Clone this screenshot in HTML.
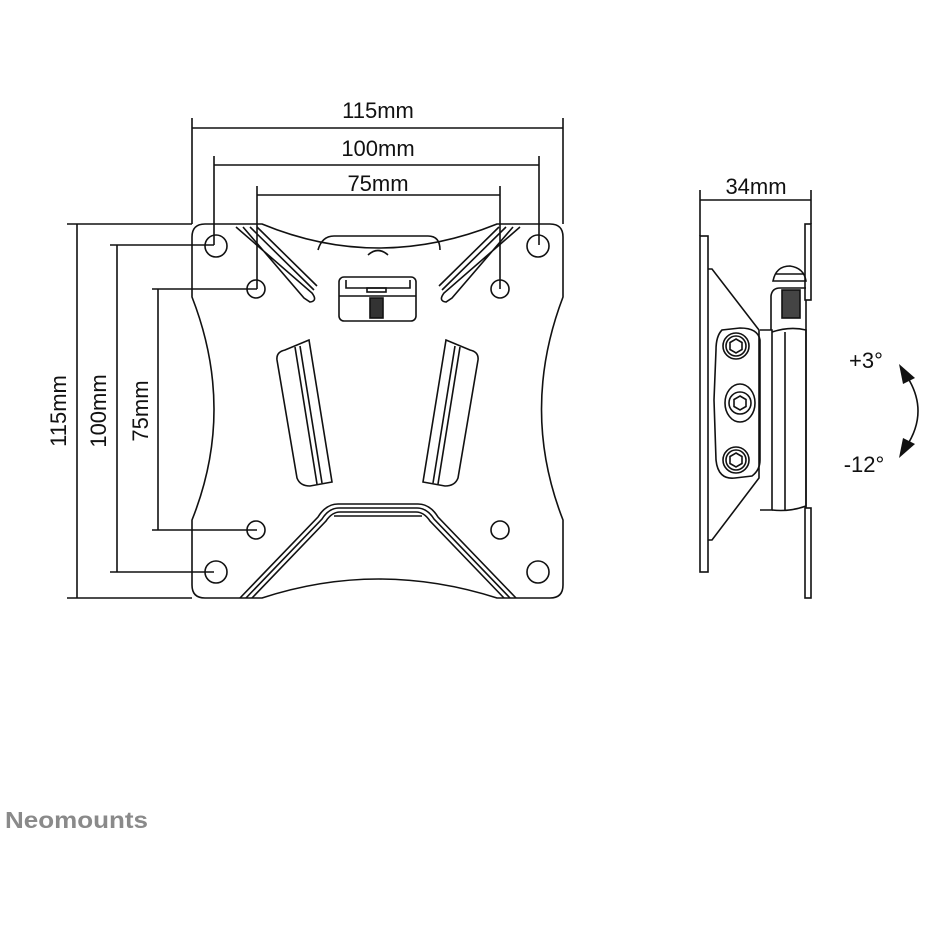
<!DOCTYPE html>
<html><head><meta charset="utf-8"><style>
html,body{margin:0;padding:0;background:#fff;}
svg{display:block}
text{font-family:"Liberation Sans",sans-serif;fill:#111}
</style></head><body>
<svg width="928" height="928" viewBox="0 0 928 928" xmlns="http://www.w3.org/2000/svg">
<g fill="none" stroke="#111" stroke-width="1.6">
<line x1="192" y1="118" x2="192" y2="224"/><line x1="563" y1="118" x2="563" y2="224"/>
<line x1="192" y1="128" x2="563" y2="128"/>
<line x1="214" y1="156" x2="214" y2="245"/><line x1="539" y1="156" x2="539" y2="245"/>
<line x1="214" y1="165" x2="539" y2="165"/>
<line x1="257" y1="186" x2="257" y2="289"/><line x1="500" y1="186" x2="500" y2="289"/>
<line x1="257" y1="195" x2="500" y2="195"/>
<line x1="67" y1="224" x2="192" y2="224"/><line x1="67" y1="598" x2="192" y2="598"/>
<line x1="77" y1="224" x2="77" y2="598"/>
<line x1="110" y1="245" x2="214" y2="245"/><line x1="110" y1="572" x2="214" y2="572"/>
<line x1="117" y1="245" x2="117" y2="572"/>
<line x1="152" y1="289" x2="257" y2="289"/><line x1="152" y1="530" x2="257" y2="530"/>
<line x1="158" y1="289" x2="158" y2="530"/>
<path d="M205 224 L262 224 Q378 272 497 224 L550 224 Q563 224 563 237 L563 297 Q520 410 563 520 L563 585 Q563 598 550 598 L497 598 Q378 560 262 598 L205 598 Q192 598 192 585 L192 520 Q236 410 192 297 L192 237 Q192 224 205 224 Z"/>
<path d="M318 250 Q322 236 334 236 L428 236 Q440 236 440 250"/>
<path d="M368 255 Q378 246 388 255"/>
<circle cx="216" cy="246" r="11"/><circle cx="538" cy="246" r="11"/>
<circle cx="216" cy="572" r="11"/><circle cx="538" cy="572" r="11"/>
<circle cx="256" cy="289" r="9"/><circle cx="500" cy="289" r="9"/>
<circle cx="256" cy="530" r="9"/><circle cx="500" cy="530" r="9"/>
<path d="M236 227 L312 293 Q318 301 310 302 L304 298 L243 227"/>
<path d="M250 227 L314 290"/><path d="M257 227 L317 286"/>
<path d="M520 227 L444 293 Q438 301 446 302 L452 298 L513 227"/>
<path d="M506 227 L442 290"/><path d="M499 227 L439 286"/>
<rect x="339" y="277" width="77" height="44" rx="5"/>
<line x1="339" y1="296" x2="416" y2="296"/>
<path d="M346 280 L346 288 L410 288 L410 280"/>
<rect x="367" y="288" width="19" height="4"/>
<rect x="370" y="298" width="13" height="20" fill="#333"/>
<path d="M285 350 Q276 352 277 360 L297 478 Q300 486 310 486 L332 482 L309 340 Z"/>
<path d="M295 347 L317 484"/><path d="M300 346 L322 483"/>
<path d="M470 350 Q479 352 478 360 L458 478 Q455 486 445 486 L423 482 L446 340 Z"/>
<path d="M460 347 L438 484"/><path d="M455 346 L433 483"/>
<path d="M240 598 L318 517 Q326 504 338 504 L418 504 Q430 504 438 517 L516 598"/>
<path d="M252 598 L326 521 Q332 512 340 512 L416 512 Q424 512 430 521 L504 598"/>
<path d="M246 598 L322 519 Q329 508 339 508 L417 508 Q427 508 434 519 L510 598"/>
<line x1="334" y1="516" x2="422" y2="516"/>
<line x1="700" y1="190" x2="700" y2="236"/><line x1="811" y1="190" x2="811" y2="224"/>
<line x1="700" y1="200" x2="811" y2="200"/>
<rect x="700" y="236" width="8" height="336"/>
<path d="M708 269 L712 269 L759 330 L759 478 L712 540 L708 540"/>
<path d="M722 330 Q716 336 716 350 L714 400 L716 460 Q718 480 735 478 L752 476 Q760 470 760 460 L760 340 Q758 328 740 328 Z"/>
<circle cx="736" cy="346" r="13"/><circle cx="736" cy="346" r="10"/>
<polygon points="736,339 742,342.5 742,349.5 736,353 730,349.5 730,342.5"/>
<ellipse cx="740" cy="403" rx="15" ry="19"/><circle cx="740" cy="403" r="11"/>
<polygon points="740,396 746,399.5 746,406.5 740,410 734,406.5 734,399.5"/>
<circle cx="736" cy="460" r="13"/><circle cx="736" cy="460" r="10"/>
<polygon points="736,453 742,456.5 742,463.5 736,467 730,463.5 730,456.5"/>
<path d="M760 330 L772 330 L772 510 L760 510"/>
<path d="M772 332 Q790 326 806 330 L806 506 Q790 512 772 510"/>
<line x1="785" y1="332" x2="785" y2="510"/>
<path d="M771 330 L771 296 Q772 288 780 288 L806 288"/>
<rect x="782" y="290" width="18" height="28" fill="#444"/>
<path d="M773 281 Q776 266 790 266 Q804 268 806 281 Z"/>
<line x1="776" y1="274" x2="804" y2="274"/>
<rect x="805" y="224" width="6" height="76"/>
<rect x="805" y="508" width="6" height="90"/>
<line x1="806" y1="300" x2="806" y2="508"/>
<path d="M906 375 Q930 411 906 447"/>
</g>
<polygon points="899,364 915,378 903,384" fill="#111"/>
<polygon points="899,458 915,444 903,438" fill="#111"/>
<g font-size="22" text-anchor="middle">
<text x="378" y="118">115mm</text>
<text x="378" y="156">100mm</text>
<text x="378" y="191">75mm</text>
<text x="756" y="194">34mm</text>
<text transform="translate(66,411) rotate(-90)">115mm</text>
<text transform="translate(106,411) rotate(-90)">100mm</text>
<text transform="translate(148,411) rotate(-90)">75mm</text>
<text x="866" y="368">+3°</text>
<text x="864" y="472">-12°</text>
</g>
<text x="5" y="828" font-size="23" font-weight="bold" textLength="143" lengthAdjust="spacingAndGlyphs" style="fill:#8a8a8a">Neomounts</text>
</svg>
</body></html>
